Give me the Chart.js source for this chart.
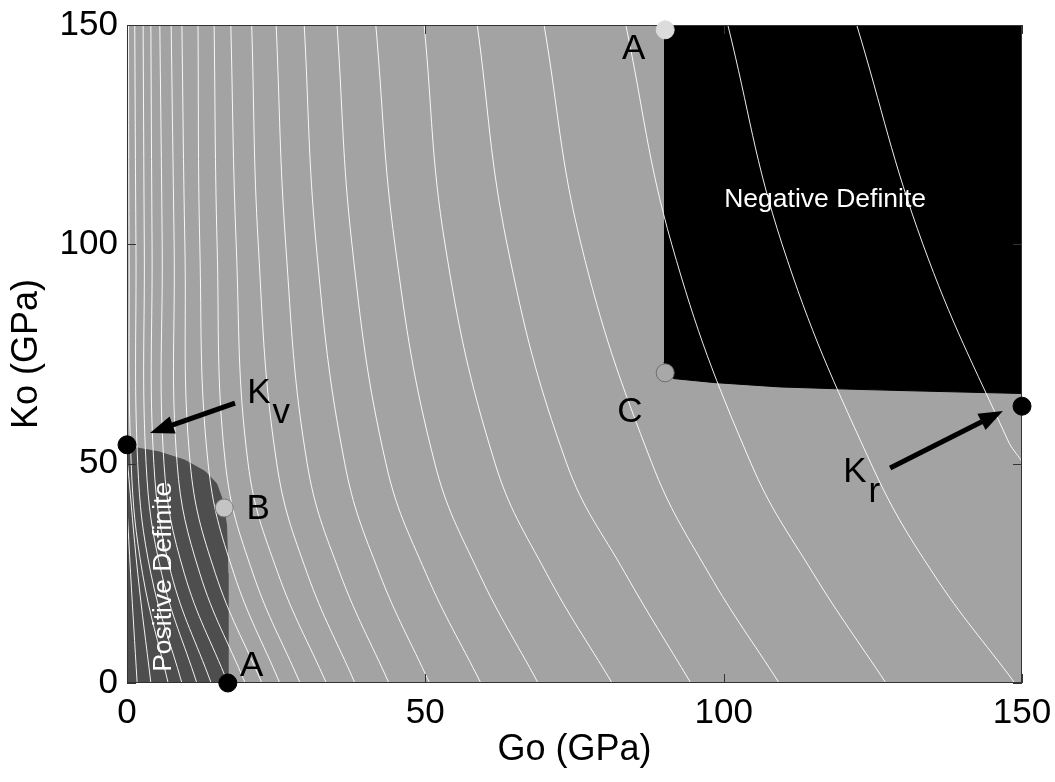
<!DOCTYPE html>
<html>
<head>
<meta charset="utf-8">
<title>Go / Ko definiteness map</title>
<script src="https://cdn.jsdelivr.net/npm/chart.js@4.4.0/dist/chart.umd.min.js"></script>
<style>
    html, body { margin: 0; padding: 0; background: #fff; }
    #wrap { width: 1055px; height: 782px; }
</style>
</head>
<body>
<div id="wrap"><canvas id="chart" width="1055" height="782"></canvas></div>
<script>
// Axis ticks (GPa)
const axisTicks = [0, 50, 100, 150];

// Contour lines: Go value at each Ko level
const contourK = [150, 100, 50, 25, 0];
const contourG = [
    [0.25, 0.35, 0.7, 2.6, 6.9],
    [1.3, 1.5, 1.8, 4.0, 9.2],
    [2.7, 2.9, 3.2, 5.8, 11.7],
    [4.0, 4.2, 4.5, 7.4, 14.1],
    [5.5, 5.9, 6.2, 9.6, 16.9],
    [7.4, 7.9, 8.4, 12.2, 19.8],
    [9.2, 9.7, 10.6, 14.8, 22.6],
    [11.9, 12.2, 13.6, 17.9, 25.6],
    [14.6, 15.1, 16.5, 21.1, 29.0],
    [17.4, 18.3, 20.3, 25.3, 33.4],
    [20.9, 22.0, 25.1, 30.2, 38.2],
    [25.0, 26.6, 30.2, 35.7, 43.9],
    [29.7, 31.7, 36.5, 42.3, 50.7],
    [35.2, 37.7, 43.4, 50.1, 59.3],
    [41.7, 44.9, 51.6, 59.0, 68.9],
    [49.8, 53.3, 61.7, 70.3, 81.3],
    [58.7, 63.7, 73.7, 83.5, 94.5],
    [69.9, 76.1, 88.0, 97.5, 109.3],
    [83.6, 91.3, 104.6, 115.0, 127.2],
    [100.7, 109.8, 124.7, 135.1, 148.8]
];
// contour leaving through the right edge
const edgeContourK = [150, 100, 55.4, 50.5];
const edgeContourG = [122.3, 133.4, 147.6, 150];
// short contours starting on the left edge
const leftContourK = [[40, 25, 0], [50, 25, 0]];
const leftContourG = [[0, 0.6, 1.7], [0.1, 1.8, 4.0]];

// Regions
const posDefG = [0, 0, 2.0, 5.3, 9.7, 13.1, 15.0, 15.9, 16.3, 16.7, 16.9, 16.9];
const posDefK = [0, 53.8, 53.5, 52.7, 50.8, 48.2, 45.5, 42.1, 39.8, 35.6, 25.0, 0];
const negDefG = [90, 150, 150, 131.8, 120.6, 109.4, 98.3, 91.6, 90.5, 90];
const negDefK = [150, 150, 66.0, 66.6, 67.0, 67.5, 68.5, 69.4, 71.0, 73.2];

// Marked points
const markerNames = ['A_top', 'A_bottom', 'B', 'C', 'Kv', 'Kr'];
const markerG = [90.2, 16.9, 16.3, 90.2, 0, 150];
const markerK = [148.9, 0, 39.9, 70.7, 54.3, 63.1];

// Letters next to the points
const labelText = ['A', 'A', 'B', 'C'];
const labelG = [84.9, 20.9, 22.0, 84.3];
const labelK = [144.4, 3.9, 39.5, 61.8];

// K symbols with subscripts, and their arrows
const symbolSub = ['v', 'r'];
const symbolG = [22.1, 122.0];
const symbolK = [66.8, 48.8];
const arrowFromG = [18.1, 127.9];
const arrowFromK = [63.8, 49.0];
const arrowToG = [3.85, 146.8];
const arrowToK = [57.0, 62.0];

// Region names
const regionText = ['Negative Definite', 'Positive Definite'];
const regionTextG = [117.0, 6.2];
const regionTextK = [110.1, 24.2];

const FONT = "'Liberation Sans', Arial, Helvetica, sans-serif";

class DefinitenessChart {
    constructor(canvasId) {
        this.canvas = document.getElementById(canvasId);
        this.init();
    }

    init() {
        const datasets = this.buildDatasets();
        this.markerIndex = datasets.length - 1;
        this.chart = new Chart(this.canvas, {
            type: 'scatter',
            data: { datasets },
            options: this.buildOptions(),
            plugins: [this.buildPlugin()]
        });
    }

    toPoints(gs, ks) {
        return gs.map((g, i) => ({ x: g, y: ks[i] }));
    }

    buildDatasets() {
        const sets = [];

        // Shaded regions
        sets.push({
            data: this.toPoints(posDefG, posDefK),
            showLine: true, fill: 'shape', tension: 0,
            backgroundColor: '#4e4e4e', borderColor: '#4e4e4e', borderWidth: 1,
            pointRadius: 0, order: 3
        });
        sets.push({
            data: this.toPoints(negDefG, negDefK),
            showLine: true, fill: 'shape', tension: 0,
            backgroundColor: '#000000', borderColor: '#000000', borderWidth: 1,
            pointRadius: 0, order: 3
        });

        // Contours
        const contour = data => ({
            data, showLine: true, fill: false,
            tension: 0.4,
            borderColor: 'rgba(255,255,255,0.92)', borderWidth: 1,
            pointRadius: 0, order: 2
        });
        contourG.forEach(gs => sets.push(contour(this.toPoints(gs, contourK))));
        sets.push(contour(this.toPoints(edgeContourG, edgeContourK)));
        leftContourG.forEach((gs, i) => sets.push(contour(this.toPoints(gs, leftContourK[i]))));

        // Marked points
        const fills = { A_top: '#dcdcdc', A_bottom: '#000', B: '#c4c4c4', C: '#a8a8a8', Kv: '#000', Kr: '#000' };
        const edges = { A_top: '#dcdcdc', A_bottom: '#000', B: '#7a7a7a', C: '#6e6e6e', Kv: '#000', Kr: '#000' };
        sets.push({
            data: this.toPoints(markerG, markerK),
            showLine: false,
            pointRadius: 9,
            pointBackgroundColor: markerNames.map(n => fills[n]),
            pointBorderColor: markerNames.map(n => edges[n]),
            pointBorderWidth: 1,
            clip: false,
            order: 1
        });
        return sets;
    }

    buildOptions() {
        const tickFont = { family: FONT, size: 35 };
        const titleFont = { family: FONT, size: 36 };
        const setTicks = s => { s.ticks = axisTicks.map(v => ({ value: v })); };
        // keep tick labels from pushing the plot area in
        const noOverflow = s => { s.paddingTop = s.paddingBottom = s.paddingLeft = s.paddingRight = 0; };
        return {
            responsive: false,
            animation: false,
            devicePixelRatio: 1,
            layout: { padding: { top: 25, right: 33, bottom: 0, left: 0 } },
            plugins: { legend: { display: false }, tooltip: { enabled: false } },
            scales: {
                x: {
                    type: 'linear', min: 0, max: 150,
                    afterBuildTicks: setTicks,
                    afterFit: s => { s.height = 99; noOverflow(s); },
                    grid: { display: false, drawTicks: false },
                    border: { display: false },
                    ticks: { padding: 9, color: '#000', font: tickFont, maxRotation: 0, autoSkip: false },
                    title: { display: true, text: 'Go (GPa)', color: '#000', font: titleFont, padding: { top: 0, bottom: 10 } }
                },
                y: {
                    type: 'linear', min: 0, max: 150,
                    afterBuildTicks: setTicks,
                    afterFit: s => { s.width = 127; noOverflow(s); },
                    grid: { display: false, drawTicks: false },
                    border: { display: false },
                    ticks: { padding: 9, color: '#000', font: tickFont, autoSkip: false },
                    title: { display: true, text: 'Ko (GPa)', color: '#000', font: titleFont, padding: { top: 5, bottom: 0 } }
                }
            }
        };
    }

    buildPlugin() {
        const self = this;
        return {
            id: 'plotDecor',
            beforeDatasetsDraw(chart) {
                const { ctx, chartArea: a } = chart;
                ctx.save();
                ctx.fillStyle = '#a3a3a3';
                ctx.fillRect(a.left, a.top, a.right - a.left, a.bottom - a.top);
                ctx.restore();
            },
            beforeDatasetDraw(chart, args) {
                // frame and inner ticks go under the point markers
                if (args.index === self.markerIndex) self.drawFrame(chart);
            },
            afterDatasetsDraw(chart) {
                self.drawAnnotations(chart);
            }
        };
    }

    drawFrame(chart) {
        const { ctx, chartArea: a, scales: { x, y } } = chart;
        const len = 9;
        ctx.save();
        ctx.strokeStyle = '#333';
        ctx.lineWidth = 1;
        ctx.strokeRect(a.left + 0.5, a.top + 0.5, a.right - a.left - 1, a.bottom - a.top - 1);
        ctx.beginPath();
        axisTicks.forEach(v => {
            const px = Math.round(x.getPixelForValue(v)) + 0.5;
            const py = Math.round(y.getPixelForValue(v)) + 0.5;
            ctx.moveTo(px, a.bottom); ctx.lineTo(px, a.bottom - len);
            ctx.moveTo(px, a.top); ctx.lineTo(px, a.top + len);
            ctx.moveTo(a.left, py); ctx.lineTo(a.left + len, py);
            ctx.moveTo(a.right, py); ctx.lineTo(a.right - len, py);
        });
        ctx.stroke();
        ctx.restore();
    }

    drawArrow(ctx, x0, y0, x1, y1) {
        const ang = Math.atan2(y1 - y0, x1 - x0);
        const head = 24, half = 9;
        const bx = x1 - head * Math.cos(ang), by = y1 - head * Math.sin(ang);
        ctx.beginPath();
        ctx.moveTo(x0, y0);
        ctx.lineTo(bx + 2 * Math.cos(ang), by + 2 * Math.sin(ang));
        ctx.lineWidth = 5;
        ctx.stroke();
        ctx.beginPath();
        ctx.moveTo(x1, y1);
        ctx.lineTo(bx + half * Math.sin(ang), by - half * Math.cos(ang));
        ctx.lineTo(bx - half * Math.sin(ang), by + half * Math.cos(ang));
        ctx.closePath();
        ctx.fill();
    }

    drawAnnotations(chart) {
        const { ctx, scales: { x, y } } = chart;
        ctx.save();
        ctx.fillStyle = '#000';
        ctx.strokeStyle = '#000';
        ctx.textAlign = 'center';
        ctx.textBaseline = 'middle';
        ctx.font = `35px ${FONT}`;

        // Point letters
        labelText.forEach((t, i) => {
            ctx.fillText(t, x.getPixelForValue(labelG[i]), y.getPixelForValue(labelK[i]));
        });

        // K symbols with subscripts
        symbolSub.forEach((sub, i) => {
            const cx = x.getPixelForValue(symbolG[i]);
            const cy = y.getPixelForValue(symbolK[i]);
            ctx.textAlign = 'center';
            ctx.textBaseline = 'alphabetic';
            const w = ctx.measureText('K').width;
            const base = cy + 13;
            ctx.fillText('K', cx, base);
            ctx.textAlign = 'left';
            ctx.fillText(sub, cx + w / 2 + 2, base + 20);
        });

        // Arrows
        arrowFromG.forEach((g, i) => {
            this.drawArrow(ctx,
                x.getPixelForValue(g), y.getPixelForValue(arrowFromK[i]),
                x.getPixelForValue(arrowToG[i]), y.getPixelForValue(arrowToK[i]));
        });

        // Region names
        ctx.fillStyle = '#fff';
        ctx.font = `26.5px ${FONT}`;
        ctx.textAlign = 'center';
        ctx.textBaseline = 'middle';
        ctx.fillText(regionText[0], x.getPixelForValue(regionTextG[0]), y.getPixelForValue(regionTextK[0]));
        ctx.translate(x.getPixelForValue(regionTextG[1]), y.getPixelForValue(regionTextK[1]));
        ctx.rotate(-Math.PI / 2);
        ctx.fillText(regionText[1], 0, 0);
        ctx.restore();
    }
}

document.addEventListener('DOMContentLoaded', () => {
    window.definitenessChart = new DefinitenessChart('chart');
});
</script>
</body>
</html>
